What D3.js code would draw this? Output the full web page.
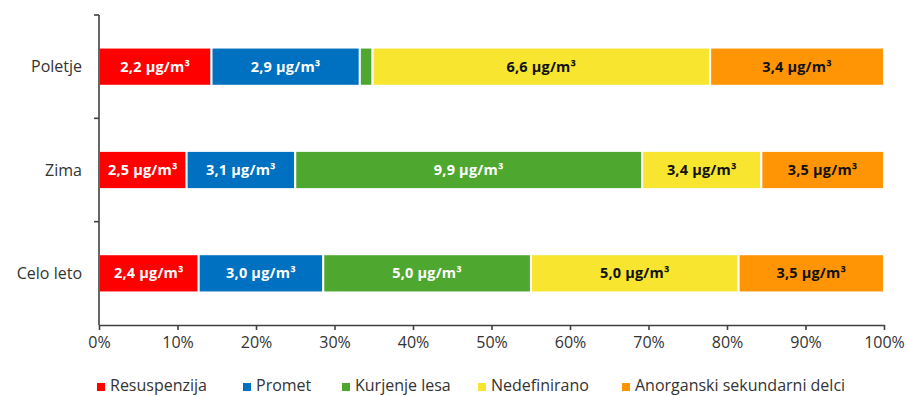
<!DOCTYPE html>
<html>
<head>
<meta charset="utf-8">
<script src="https://cdn.jsdelivr.net/npm/d3@7"></script>
<style>
  html, body { margin: 0; padding: 0; background: #fff; }
  svg { display: block; font-family: "Open Sans", "Noto Sans", sans-serif; }
</style>
</head>
<body>
<svg id="chart" width="907" height="396"></svg>
<script>
// Source contributions (µg/m³) per period
const categories = ["Poletje", "Zima", "Celo leto"];
const seriesNames = ["Resuspenzija", "Promet", "Kurjenje lesa", "Nedefinirano", "Anorganski sekundarni delci"];
const resuspenzija = [2.2, 2.5, 2.4];
const promet = [2.9, 3.1, 3.0];
const kurjenjeLesa = [0.25, 9.9, 5.0];
const nedefinirano = [6.6, 3.4, 5.0];
const anorganski = [3.4, 3.5, 3.5];
const xTicks = [0, 0.1, 0.2, 0.3, 0.4, 0.5, 0.6, 0.7, 0.8, 0.9, 1.0];

const seriesValues = [resuspenzija, promet, kurjenjeLesa, nedefinirano, anorganski];
const colors = ["#FF0000", "#0070C0", "#4EA72E", "#F7E52F", "#FF9505"];
const labelColors = ["#fff", "#fff", "#fff", "#111", "#111"];

const svg = d3.select("#chart");
const margin = { left: 99, right: 23, top: 15, bottom: 71 };
const W = 907, H = 396;

const x = d3.scaleLinear().domain([0, 1]).range([margin.left, W - margin.right]);
const y = d3.scaleBand().domain(categories).range([margin.top, H - margin.bottom]).paddingInner(0.63).paddingOuter(0.315);

// Build rows of shares for stacking
const rows = categories.map((c, i) => {
  const r = { cat: c };
  const total = d3.sum(seriesValues, s => s[i]);
  seriesNames.forEach((n, k) => { r[n] = seriesValues[k][i] / total; r[n + "_v"] = seriesValues[k][i]; });
  return r;
});
const stacked = d3.stack().keys(seriesNames)(rows);

const g = svg.append("g");
stacked.forEach((layer, k) => {
  const lg = g.append("g");
  lg.selectAll("rect").data(layer).join("rect")
    .attr("x", d => x(d[0]))
    .attr("y", d => y(d.data.cat))
    .attr("width", d => x(d[1]) - x(d[0]))
    .attr("height", y.bandwidth())
    .attr("fill", colors[k])
    .attr("stroke", "#fff")
    .attr("stroke-width", 2);
  lg.selectAll("text").data(layer.filter(d => (x(d[1]) - x(d[0])) > 40)).join("text")
    .attr("x", d => (x(d[0]) + x(d[1])) / 2)
    .attr("y", d => y(d.data.cat) + y.bandwidth() / 2 + 5)
    .attr("text-anchor", "middle")
    .attr("fill", labelColors[k])
    .attr("font-size", 14.5)
    .attr("font-weight", 700)
    .attr("letter-spacing", 0.2)
    .text(d => d3.format(".1f")(d.data[seriesNames[k] + "_v"]).replace(".", ",") + " µg/m³");
});

// Category axis
const step = y.step();
const yAxisG = svg.append("g").attr("stroke", "#404040").attr("stroke-width", 1.6);
yAxisG.append("line").attr("x1", x(0)).attr("x2", x(0)).attr("y1", margin.top).attr("y2", H - margin.bottom);
const yTickPos = [margin.top, margin.top + step, margin.top + 2 * step];
yTickPos.forEach(p => yAxisG.append("line").attr("x1", x(0) - 5).attr("x2", x(0)).attr("y1", p).attr("y2", p));
svg.append("g").selectAll("text").data(categories).join("text")
  .attr("x", x(0) - 17)
  .attr("y", d => y(d) + y.bandwidth() / 2 + 5.5)
  .attr("text-anchor", "end")
  .attr("font-size", 16)
  .attr("fill", "#333")
  .text(d => d);

// Percentage axis
const xAxis = d3.axisBottom(x).tickValues(xTicks).tickFormat(d3.format(".0%")).tickSize(5).tickSizeOuter(0);
const xg = svg.append("g").attr("transform", `translate(0,${H - margin.bottom})`).call(xAxis);
xg.select(".domain").attr("stroke", "#404040").attr("stroke-width", 1.6);
xg.selectAll(".tick line").attr("stroke", "#404040").attr("stroke-width", 1.6);
xg.selectAll(".tick text").attr("font-size", 16).attr("fill", "#333").attr("dy", "0.95em")
  .attr("font-family", "\"Open Sans\", \"Noto Sans\", sans-serif");

// Legend
const legendX = [97, 243, 342, 478, 622];
const lg = svg.append("g");
seriesNames.forEach((n, k) => {
  lg.append("rect").attr("x", legendX[k]).attr("y", 383).attr("width", 8).attr("height", 8).attr("fill", colors[k]);
  lg.append("text").attr("x", legendX[k] + 13).attr("y", 391).attr("font-size", 16).attr("fill", "#333").text(n);
});
</script>
</body>
</html>
